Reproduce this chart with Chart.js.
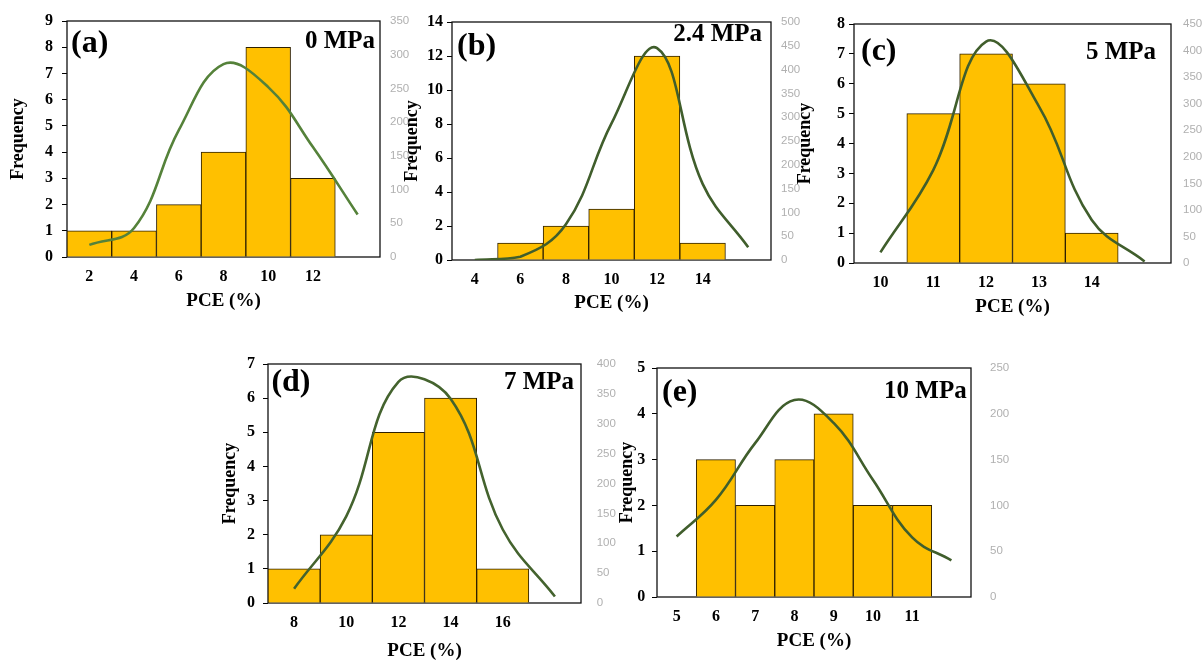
<!DOCTYPE html>
<html lang="en">
<head>
    <meta charset="UTF-8">
    <title>PCE histograms</title>
    <script src="https://cdn.jsdelivr.net/npm/chart.js@4.4.1/dist/chart.umd.min.js"></script>
    <style>
        body { margin: 0; background: #fff; }
        #wrap { position: relative; width: 1204px; height: 661px; overflow: hidden; }
        #wrap canvas { position: absolute; }
    </style>
</head>
<body>
<div id="wrap"></div>
<script>
    // (a) 0 MPa
    const pceA = ['2', '4', '6', '8', '10', '12', ''];
    const countA = [1, 1, 2, 4, 8, 3, null];
    const fitA = [18, 43, 188, 286, 252, 163, 63];

    // (b) 2.4 MPa
    const pceB = ['4', '6', '8', '10', '12', '14', ''];
    const countB = [0, 1, 2, 3, 12, 1, null];
    const fitB = [0, 7, 75, 287, 445, 160, 27];

    // (c) 5 MPa
    const pceC = ['10', '11', '12', '13', '14', ''];
    const countC = [0, 5, 7, 6, 1, null];
    const fitC = [20, 175, 417, 295, 81, 3];

    // (d) 7 MPa
    const pceD = ['8', '10', '12', '14', '16', ''];
    const countD = [1, 2, 5, 6, 1, null];
    const fitD = [24, 145, 370, 342, 123, 11];

    // (e) 10 MPa
    const pceE = ['5', '6', '7', '8', '9', '10', '11', ''];
    const countE = [0, 3, 2, 3, 4, 2, 2, null];
    const fitE = [66, 106, 168, 215, 190, 128, 65, 40];

    const SERIF = '"Liberation Serif", "Times New Roman", serif';
    // canvas margins round the plot box; MT is large so tick padding never pushes the plot down
    const ML = 62, MR = 42, MT = 32, MB = 62;

    // layout: plot box [left, top, right, bottom] in page pixels + label offsets
    const panels = [
        { tag: '(a)', press: '0 MPa', labels: pceA, counts: countA, fit: fitA, yMax: 9, yStep: 1, y2Max: 350,
          box: [67, 21, 380, 257], yTitle: 48.7, yPad: 9, y2Pad: 10, xTitle: 44.4, tagPos: [4, 22.6], pressPos: [5, 21],
          lineColor: '#55823a' },
        { tag: '(b)', press: '2.4 MPa', labels: pceB, counts: countB, fit: fitB, yMax: 14, yStep: 2, y2Max: 500,
          box: [452, 22, 771, 260], yTitle: 40, yPad: 4, y2Pad: 10, xTitle: 43, tagPos: [5, 24.4], pressPos: [9, 12.7],
          lineColor: '#405e2c' },
        { tag: '(c)', press: '5 MPa', labels: pceC, counts: countC, fit: fitC, yMax: 8, yStep: 1, y2Max: 450,
          box: [854, 24, 1171, 263], yTitle: 49, yPad: 4, y2Pad: 12, xTitle: 43.7, tagPos: [7, 27.4], pressPos: [15, 29],
          lineColor: '#405e2c' },
        { tag: '(d)', press: '7 MPa', labels: pceD, counts: countD, fit: fitD, yMax: 7, yStep: 1, y2Max: 400,
          box: [268, 364, 581, 603], yTitle: 37.7, yPad: 8, y2Pad: 15.7, xTitle: 48.4, tagPos: [3.4, 19], pressPos: [7, 19],
          lineColor: '#44632e' },
        { tag: '(e)', press: '10 MPa', labels: pceE, counts: countE, fit: fitE, yMax: 5, yStep: 1, y2Max: 250,
          box: [657, 368, 971, 597], yTitle: 29.4, yPad: 6.7, y2Pad: 19, xTitle: 44.4, tagPos: [5, 25], pressPos: [4.3, 23.4],
          lineColor: '#405e2c' }
    ];

    // frame + "(a)" / "0 MPa" labels
    const panelDecor = {
        id: 'panelDecor',
        beforeDatasetsDraw(chart) {
            const { ctx, chartArea: { left, top, right, bottom } } = chart;
            ctx.save();
            ctx.strokeStyle = '#111';
            ctx.lineWidth = 1.3;
            ctx.strokeRect(left, top, right - left, bottom - top);
            ctx.restore();
        },
        afterDatasetsDraw(chart, args, opts) {
            const { ctx, chartArea: { left, top, right } } = chart;
            ctx.save();
            ctx.fillStyle = '#000';
            ctx.textBaseline = 'middle';
            ctx.font = 'bold 32px ' + SERIF;
            ctx.textAlign = 'left';
            ctx.fillText(opts.tag, left + opts.tagPos[0], top + opts.tagPos[1]);
            ctx.font = 'bold 25px ' + SERIF;
            ctx.textAlign = 'right';
            ctx.fillText(opts.press, right - opts.pressPos[0], top + opts.pressPos[1]);
            ctx.restore();
        }
    };

    function makePanel(p) {
        const [l, t, r, b] = p.box;
        const cv = document.createElement('canvas');
        cv.width = r - l + ML + MR;
        cv.height = b - t + MT + MB;
        cv.style.left = (l - ML) + 'px';
        cv.style.top = (t - MT) + 'px';
        document.getElementById('wrap').appendChild(cv);

        return new Chart(cv, {
            type: 'bar',
            data: {
                labels: p.labels,
                datasets: [
                    {
                        type: 'line',
                        data: p.fit,
                        yAxisID: 'y1',
                        borderColor: p.lineColor,
                        borderWidth: 2.6,
                        pointRadius: 0,
                        tension: 0.4,
                        fill: false,
                        order: 0
                    },
                    {
                        type: 'bar',
                        data: p.counts,
                        yAxisID: 'y',
                        backgroundColor: '#FFC000',
                        borderColor: '#2e2000',
                        borderWidth: 1,
                        barPercentage: 1,
                        categoryPercentage: 1,
                        order: 1
                    }
                ]
            },
            options: {
                responsive: false,
                animation: false,
                layout: { padding: { top: MT, left: 0, right: 0, bottom: 0 } },
                plugins: {
                    legend: { display: false },
                    tooltip: { enabled: false },
                    panelDecor: { tag: p.tag, press: p.press, tagPos: p.tagPos, pressPos: p.pressPos }
                },
                scales: {
                    x: {
                        offset: true,
                        grid: { display: false, drawTicks: false },
                        border: { display: false },
                        ticks: {
                            color: '#000', padding: 10, maxRotation: 0, autoSkip: false,
                            font: { family: SERIF, size: 16, weight: 'bold' }
                        },
                        title: {
                            display: true, text: 'PCE (%)', color: '#000',
                            font: { family: SERIF, size: 19, weight: 'bold' },
                            padding: { top: 0, bottom: MB - 11.4 - p.xTitle }
                        },
                        afterFit(s) { s.height = MB; }
                    },
                    y: {
                        position: 'left',
                        min: 0,
                        max: p.yMax,
                        grid: { drawOnChartArea: false, drawTicks: true, tickLength: 5, color: '#000' },
                        border: { display: false },
                        ticks: {
                            stepSize: p.yStep, color: '#000', padding: p.yPad,
                            font: { family: SERIF, size: 16, weight: 'bold' }
                        },
                        title: {
                            display: true, text: 'Frequency', color: '#000',
                            font: { family: SERIF, size: 18, weight: 'bold' },
                            padding: { top: ML - p.yTitle - 10.8, bottom: 0 }
                        },
                        afterFit(s) { s.width = ML; }
                    },
                    y1: {
                        position: 'right',
                        min: 0,
                        max: p.y2Max,
                        grid: { display: false, drawTicks: false },
                        border: { display: false },
                        ticks: {
                            stepSize: 50, color: '#b0b0b0', padding: p.y2Pad,
                            font: { family: '"Liberation Sans", Arial, sans-serif', size: 11.5 }
                        },
                        afterFit(s) { s.width = MR; }
                    }
                }
            },
            plugins: [panelDecor]
        });
    }

    panels.forEach(makePanel);
</script>
</body>
</html>
